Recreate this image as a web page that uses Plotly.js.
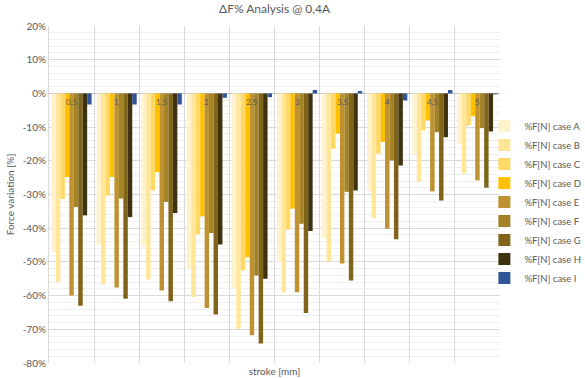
<!DOCTYPE html>
<html>
<head>
<meta charset="utf-8">
<script src="https://cdn.plot.ly/plotly-3.0.1.min.js"></script>
<style>html,body{margin:0;padding:0;background:#fff;}#chart{width:585px;height:378px;}</style>
</head>
<body>
<div id="chart"></div>
<script>
var categories = ["0,5", "1", "1,5", "2", "2,5", "3", "3,5", "4", "4,5", "5"];
var seriesNames = ["%F[N] case A", "%F[N] case B", "%F[N] case C", "%F[N] case D", "%F[N] case E",
                   "%F[N] case F", "%F[N] case G", "%F[N] case H", "%F[N] case I"];
var caseA = [-47, -45, -45.5, -52, -58, -50, -43, -29, -18, -15];
var caseB = [-56, -56.7, -55.2, -60.4, -69.8, -59, -49.7, -37, -26.1, -23.8];
var caseC = [-31.3, -30.3, -28.8, -41.8, -52.5, -40.4, -16.4, -17.9, -11, -9.5];
var caseD = [-24.8, -24.8, -23.4, -36.5, -48.6, -34.2, -11.9, -14.4, -8, -6.8];
var caseE = [-60, -57.6, -58.5, -63.7, -71.8, -59, -50.5, -40.2, -29.1, -25.8];
var caseF = [-33.7, -31.2, -32.2, -41.4, -54, -38.7, -29.2, -19.9, -11.5, -10.3];
var caseG = [-63, -60.9, -61.7, -65.6, -74.2, -65.2, -55.5, -43.3, -31.8, -28];
var caseH = [-36.2, -36.7, -35.5, -44.8, -55, -40.8, -28.8, -21.4, -13, -11.3];
var caseI = [-3.3, -3.3, -3.3, -1.3, -1.1, 1, 0.7, -2.1, 1, -0.3];
var yTickVals = [20, 10, 0, -10, -20, -30, -40, -50, -60, -70, -80];
var yTickLabels = ["20%", "10%", "0%", "-10%", "-20%", "-30%", "-40%", "-50%", "-60%", "-70%", "-80%"];

var allSeries = [caseA, caseB, caseC, caseD, caseE, caseF, caseG, caseH, caseI];
var colors = ["#FFF2CC", "#FFE699", "#FFD966", "#FFC000", "#BF9130", "#A38326", "#7F6419", "#3F3210", "#2F5597"];
var fontFam = "Lato, 'Open Sans', 'DejaVu Sans', sans-serif";
var grey = "#595959";

var traces = allSeries.map(function (vals, i) {
  return {
    type: "bar",
    name: seriesNames[i],
    x: categories,
    y: vals,
    marker: {color: colors[i], line: {width: 0}},
    hoverinfo: "x+y+name"
  };
});

var annotations = categories.map(function (c, i) {
  return {
    x: i, y: 0, xref: "x", yref: "y", text: c, showarrow: false,
    yanchor: "top", yshift: -2,
    font: {family: fontFam, size: 8, color: grey}
  };
});
annotations.push({
  x: 0.5, y: 1, xref: "paper", yref: "paper", yanchor: "bottom", yshift: 8,
  text: "ΔF% Analysis @ 0,4A", showarrow: false,
  font: {family: fontFam, size: 12, color: grey}
});

var layout = {
  width: 585,
  height: 378,
  margin: {l: 49, r: 85, t: 26, b: 15, autoexpand: false},
  paper_bgcolor: "#ffffff",
  plot_bgcolor: "#ffffff",
  barmode: "group",
  bargap: 0.11,
  bargroupgap: 0,
  showlegend: true,
  legend: {
    xref: "container", yref: "container",
    x: 0.828, y: 0.705, xanchor: "left", yanchor: "top",
    bgcolor: "rgba(0,0,0,0)",
    font: {family: fontFam, size: 9.5, color: grey},
    tracegroupgap: 0, itemwidth: 30, borderwidth: 0
  },
  xaxis: {
    type: "category",
    tickson: "boundaries",
    showticklabels: false,
    ticks: "",
    showgrid: true,
    gridcolor: "#D9D9D9",
    gridwidth: 1,
    showline: false,
    zeroline: false,
    title: {text: "stroke [mm]", font: {family: fontFam, size: 10, color: grey}, standoff: 4},
    automargin: false
  },
  yaxis: {
    range: [-80, 20],
    tickmode: "array",
    tickvals: yTickVals,
    ticktext: yTickLabels,
    ticks: "",
    showgrid: true,
    gridcolor: "#D9D9D9",
    gridwidth: 1,
    minor: {tickmode: "linear", tick0: 0, dtick: 2, showgrid: true, gridcolor: "#F0F0F0", gridwidth: 1},
    zeroline: true,
    zerolinecolor: "#BFBFBF",
    zerolinewidth: 1,
    showline: true,
    linecolor: "#D9D9D9",
    tickfont: {family: fontFam, size: 10, color: grey},
    title: {text: "Force variation [%]", font: {family: fontFam, size: 10, color: grey}, standoff: 6},
    automargin: false
  },
  annotations: annotations
};

Plotly.newPlot("chart", traces, layout, {displayModeBar: false, staticPlot: true});
</script>
</body>
</html>
